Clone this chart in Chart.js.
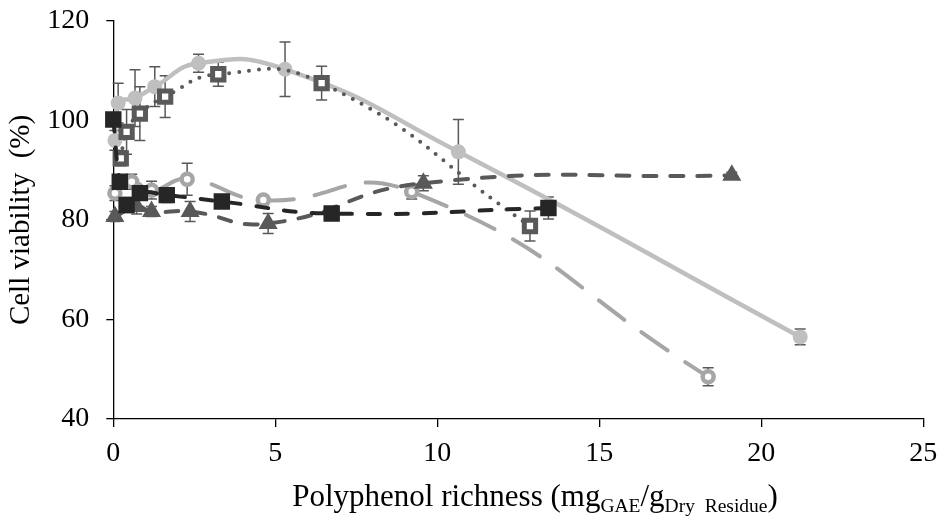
<!DOCTYPE html>
<html>
<head>
  <title>Cell viability vs polyphenol richness</title>
  <script src="https://cdn.jsdelivr.net/npm/chart.js"></script>
  <style>
    body {
      margin: 0;
      background: white;
    }
    #wrap {
      position: relative;
      width: 944px;
      height: 525px;
    }
    #xTitle {
      position: absolute;
      left: 535px;
      top: 480px;
      transform: translateX(-50%);
      font-family: 'Liberation Serif', serif;
      font-size: 31px;
      line-height: 31px;
      white-space: nowrap;
      color: #000;
    }
    #xTitle sub {
      font-size: 19.5px;
      vertical-align: -6px;
      line-height: 0;
    }
  </style>
</head>
<body>

  <div id="wrap">
    <canvas id="viabilityChart" width="944" height="525"></canvas>
    <div id="xTitle">Polyphenol richness (mg<sub>GAE</sub>/g<sub>Dry&nbsp; Residue</sub>)</div>
  </div>

  <script>
    // x = polyphenol richness (mg GAE / g dry residue), y = cell viability (%), err = +/- bar
    const lightX = [0.05, 0.15, 0.67, 1.28, 2.63, 5.3, 10.65, 21.2];
    const lightY = [96, 103.5, 104.5, 106.8, 111.5, 110.3, 93.7, 56.5];
    const lightErr = [2, 4, 5.7, 4.0, 1.8, 5.5, 6.5, 1.6];

    const openSqX = [0.23, 0.41, 0.82, 1.6, 3.24, 6.43, 12.86];
    const openSqY = [92.4, 97.7, 101.4, 104.8, 109.3, 107.5, 78.8];
    const openSqErr = [1.5, 4.5, 5.4, 4.2, 2.4, 3.4, 3.0];

    const blackX = [0, 0.2, 0.41, 0.82, 1.65, 3.35, 6.74, 13.43];
    const blackY = [100.2, 87.7, 83.0, 85.4, 85.0, 83.7, 81.3, 82.4];
    const blackErr = [1, 1, 1.5, 1.2, 1.5, 1.2, 0.8, 2.2];

    const openCircX = [0.05, 0.57, 1.18, 2.28, 4.63, 9.21, 18.36];
    const openCircY = [85.4, 87.7, 86.0, 88.2, 84.0, 85.7, 48.5];
    const openCircErr = [1.5, 1.5, 1.8, 3.2, 0.8, 1.5, 1.8];

    const triX = [0.05, 0.72, 1.18, 2.37, 4.78, 9.57, 19.09];
    const triY = [80.7, 82.7, 81.7, 81.7, 79.3, 87.4, 89.0];
    const triErr = [1, 1.5, 1, 2, 2, 1.5, 0.6];

    const xTicks = [0, 5, 10, 15, 20, 25];
    const yTicks = [40, 60, 80, 100, 120];

    const pts = (xs, ys) => xs.map((x, i) => ({ x: x, y: ys[i] }));

    // draws vertical error bars under the markers
    const errorBars = {
      id: 'errorBars',
      beforeDatasetsDraw(chart) {
        const ctx = chart.ctx;
        const xs = chart.scales.x, ys = chart.scales.y;
        ctx.save();
        ctx.strokeStyle = '#595959';
        ctx.lineWidth = 1.5;
        chart.data.datasets.forEach(ds => {
          ds.data.forEach((p, i) => {
            const e = ds.errors[i];
            const px = xs.getPixelForValue(p.x);
            const top = ys.getPixelForValue(p.y + e);
            const bot = ys.getPixelForValue(p.y - e);
            ctx.beginPath();
            ctx.moveTo(px, top); ctx.lineTo(px, bot);
            ctx.moveTo(px - 5.5, top); ctx.lineTo(px + 5.5, top);
            ctx.moveTo(px - 5.5, bot); ctx.lineTo(px + 5.5, bot);
            ctx.stroke();
          });
        });
        ctx.restore();
      }
    };

    const serif = 'Liberation Serif';

    new Chart(document.getElementById('viabilityChart'), {
      type: 'line',
      data: {
        datasets: [
          {
            data: pts(blackX, blackY), errors: blackErr, clip: false,
            borderColor: '#262626', borderWidth: 4, borderDash: [12, 16], borderCapStyle: 'round',
            pointStyle: 'rect', pointRadius: 9.5, pointBackgroundColor: '#262626',
            pointBorderColor: '#262626', pointBorderWidth: 3, tension: 0.5
          },
          {
            data: pts(openSqX, openSqY), errors: openSqErr, clip: false,
            borderColor: '#595959', borderWidth: 4, borderDash: [0, 10], borderCapStyle: 'round',
            pointStyle: 'rect', pointRadius: 8, pointBackgroundColor: '#fff',
            pointBorderColor: '#595959', pointBorderWidth: 5, tension: 0.5
          },
          {
            data: pts(triX, triY), errors: triErr, clip: false,
            borderColor: '#595959', borderWidth: 4, borderDash: [13, 14], borderCapStyle: 'round',
            pointStyle: 'triangle', pointRadius: 9, pointBackgroundColor: '#595959',
            pointBorderColor: '#595959', pointBorderWidth: 2, tension: 0.5
          },
          {
            data: pts(lightX, lightY), errors: lightErr, clip: false,
            borderColor: '#bfbfbf', borderWidth: 4.5, borderCapStyle: 'round',
            pointStyle: 'circle', pointRadius: 7.5, pointBackgroundColor: '#bfbfbf',
            pointBorderColor: '#bfbfbf', pointBorderWidth: 0, tension: 0.5
          },
          {
            data: pts(openCircX, openCircY), errors: openCircErr, clip: false,
            borderColor: '#a6a6a6', borderWidth: 4, borderDash: [32, 21], borderCapStyle: 'round',
            pointStyle: 'circle', pointRadius: 5.5, pointBackgroundColor: '#fff',
            pointBorderColor: '#a6a6a6', pointBorderWidth: 4.5, tension: 0.5
          }
        ]
      },
      options: {
        responsive: false,
        animation: false,
        devicePixelRatio: 1,
        layout: { padding: { left: 0, top: 21, right: 20.7, bottom: 0 } },
        plugins: { legend: { display: false }, tooltip: { enabled: false } },
        scales: {
          x: {
            type: 'linear', min: 0, max: 25,
            afterBuildTicks: s => { s.ticks = xTicks.map(v => ({ value: v })); },
            afterFit: s => { s.height = 106; s.paddingLeft = 0; s.paddingRight = 0; },
            grid: { drawOnChartArea: false, tickLength: 8, color: '#000', lineWidth: 1.3 },
            border: { color: '#000', width: 1.3 },
            ticks: { color: '#000', padding: 10, maxRotation: 0, font: { family: serif, size: 28 } }
          },
          y: {
            min: 40, max: 120,
            afterBuildTicks: s => { s.ticks = yTicks.map(v => ({ value: v })); },
            afterFit: s => { s.width = 113.3; s.paddingTop = 0; s.paddingBottom = 0; },
            grid: { drawOnChartArea: false, tickLength: 7, color: '#000', lineWidth: 1.3 },
            border: { color: '#000', width: 1.3 },
            ticks: { color: '#000', padding: 17, font: { family: serif, size: 28 } },
            title: {
              display: true, text: 'Cell viability  (%)', color: '#000',
              padding: { top: 4, bottom: 0 }, font: { family: serif, size: 29, weight: 'normal' }
            }
          }
        }
      },
      plugins: [errorBars]
    });
  </script>

</body>
</html>
